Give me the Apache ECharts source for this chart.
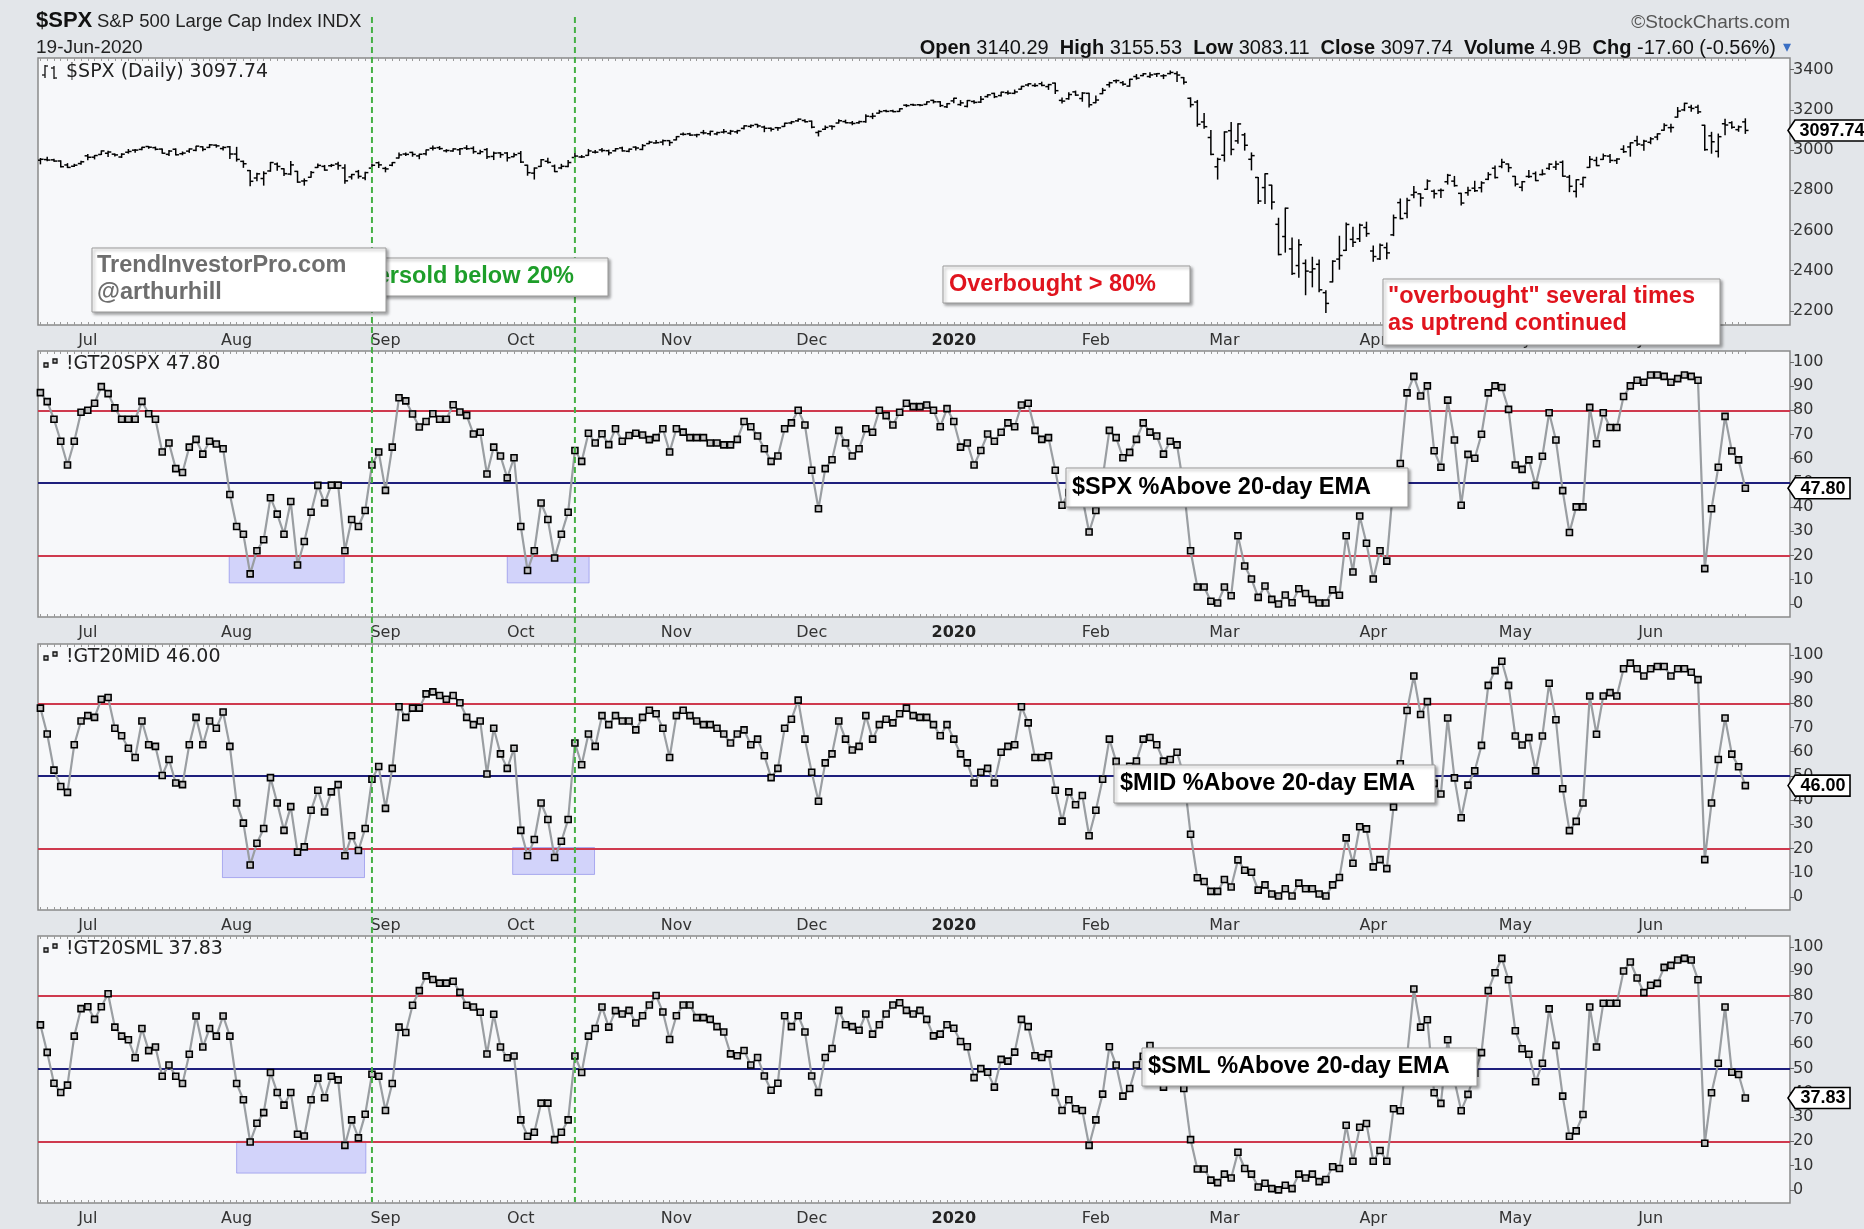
<!DOCTYPE html>
<html><head><meta charset="utf-8">
<script src="https://cdn.jsdelivr.net/npm/echarts@6/dist/echarts.min.js"></script>
<style>html,body{margin:0;padding:0;background:#e3e6ea;}#c{width:1864px;height:1229px;}</style>
</head><body><div id="c"></div>
<script>
// ---------- DATA ----------
const monthLabels = ['Jul','Aug','Sep','Oct','Nov','Dec','2020','Feb','Mar','Apr','May','Jun'];
const monthStartIdx = [7,29,51,71,94,114,135,156,175,197,218,238];
const priceTicks = [2200,2400,2600,2800,3000,3200,3400];
const pctTicks = [0,10,20,30,40,50,60,70,80,90,100];
const markerDays = [49,79];
// $SPX daily [open, high, low, close], 20-Jun-2019 .. 19-Jun-2020
const spxBars = [
[2949.60,2958.06,2931.50,2954.18],[2952.71,2964.15,2946.87,2950.46],[2951.42,2954.92,2944.05,2945.35],[2945.78,2946.52,2916.01,2917.38],[2926.07,2932.59,2912.99,2913.78],[2919.66,2929.30,2918.57,2924.92],[2932.94,2943.98,2929.05,2941.76],
[2971.41,2977.93,2952.22,2964.33],[2964.66,2973.21,2955.92,2973.01],[2978.08,2995.84,2977.96,2995.82],[2984.25,2994.03,2967.97,2990.41],[2979.77,2980.76,2970.09,2975.95],[2965.52,2981.90,2963.44,2979.63],[2989.30,3002.98,2984.62,2993.07],[2999.62,3002.33,2988.80,2999.91],[3003.36,3013.92,3001.87,3013.77],[3017.80,3017.80,3008.77,3014.30],[3012.13,3015.02,3001.15,3004.04],[3005.10,3005.26,2984.25,2984.42],[2978.87,2998.28,2973.09,2995.11],[3004.26,3006.02,2975.86,2976.61],[2981.93,2990.71,2976.65,2985.03],[2994.74,3005.90,2988.56,3005.47],[2998.77,3019.59,2996.82,3019.56],[3016.26,3016.31,2997.24,3003.67],[3013.25,3027.98,3012.59,3025.86],[3024.47,3025.61,3014.30,3020.97],[3007.66,3017.19,3000.94,3013.18],[3016.22,3017.40,2958.08,2980.38],
[2980.32,3013.59,2945.23,2953.56],[2943.90,2945.50,2914.11,2932.05],[2898.07,2898.07,2822.12,2844.74],[2861.18,2884.40,2847.42,2881.77],[2858.65,2892.17,2825.71,2883.98],[2896.21,2938.72,2894.47,2938.09],[2930.51,2935.75,2900.15,2918.65],[2907.07,2907.58,2873.14,2882.70],[2880.72,2943.31,2877.05,2926.32],[2894.15,2894.15,2839.64,2840.60],[2846.20,2856.67,2825.51,2847.60],[2864.74,2893.63,2864.74,2888.68],[2913.48,2931.00,2913.48,2923.65],[2919.01,2923.63,2899.60,2900.51],[2922.04,2928.73,2917.91,2924.43],[2930.94,2939.08,2904.51,2922.95],[2911.07,2927.01,2834.97,2847.11],[2866.70,2879.27,2856.00,2878.38],[2893.14,2898.79,2860.59,2869.16],[2861.28,2890.03,2853.05,2887.94],[2910.37,2930.50,2905.67,2924.58],[2937.09,2940.43,2913.32,2926.46],
[2909.01,2914.39,2891.85,2906.27],[2924.67,2938.84,2921.86,2937.78],[2960.60,2985.86,2960.60,2976.00],[2980.33,2985.03,2972.51,2978.71],[2988.43,2989.43,2969.39,2978.43],[2971.01,2979.39,2957.01,2979.39],[2981.41,3000.93,2975.31,3000.93],[3009.08,3020.74,3000.92,3009.57],[3012.21,3017.33,3002.90,3007.39],[2996.41,3002.19,2990.67,2997.96],[2995.67,3006.21,2993.73,3005.70],[3001.50,3007.83,2978.57,3006.73],[3010.36,3021.99,3003.16,3006.79],[3008.42,3016.37,2984.68,2992.07],[2983.50,2999.15,2982.23,2991.78],[3002.43,3007.98,2957.73,2966.60],[2968.35,2989.82,2952.86,2984.87],[2985.73,2987.28,2963.71,2977.62],[2985.47,2987.31,2945.53,2961.79],[2967.07,2983.85,2967.07,2976.74],
[2983.69,2992.53,2938.70,2940.25],[2924.78,2924.78,2874.93,2887.61],[2885.38,2911.13,2855.94,2910.63],[2918.56,2953.74,2918.56,2952.01],[2944.23,2959.75,2935.68,2938.79],[2920.40,2925.47,2892.66,2893.06],[2911.10,2929.32,2907.41,2919.40],[2918.55,2948.46,2917.12,2938.13],[2963.07,2993.28,2963.07,2970.27],[2965.81,2972.84,2962.94,2966.15],[2973.61,3003.28,2973.61,2995.68],[2989.68,2997.54,2985.20,2989.69],[3000.77,3008.29,2991.79,2997.95],[2996.84,3000.00,2976.31,2986.20],[2996.48,3007.33,2995.35,3006.72],[3010.73,3014.57,2995.04,2995.99],[2994.01,3004.78,2991.21,3004.52],[3014.78,3016.07,3000.42,3010.29],[3003.32,3027.39,3001.94,3022.55],[3032.12,3044.08,3032.12,3039.42],[3035.39,3047.87,3034.81,3036.89],[3039.74,3050.10,3025.96,3046.77],[3046.90,3046.90,3023.19,3037.56],
[3050.72,3066.95,3050.72,3066.91],[3078.96,3085.20,3074.87,3078.27],[3080.80,3083.95,3072.15,3074.62],[3075.10,3078.34,3065.89,3076.78],[3087.02,3097.77,3080.23,3085.18],[3081.25,3093.09,3073.58,3093.08],[3080.33,3088.33,3075.82,3087.01],[3089.28,3102.61,3084.73,3091.84],[3084.18,3098.06,3078.80,3094.04],[3090.75,3098.20,3083.26,3096.63],[3107.92,3120.46,3104.60,3120.46],[3117.91,3124.17,3112.06,3122.03],[3127.45,3127.64,3113.47,3120.18],[3114.66,3118.97,3091.41,3108.46],[3108.49,3110.11,3094.55,3103.54],[3111.41,3112.87,3099.26,3110.29],[3117.44,3133.83,3117.44,3133.64],[3134.85,3142.69,3131.00,3140.52],[3145.49,3154.26,3143.41,3153.63],[3147.18,3150.30,3139.34,3140.98],
[3143.85,3144.31,3110.78,3113.87],[3087.41,3094.97,3070.33,3093.20],[3103.50,3119.38,3102.53,3112.76],[3119.21,3119.45,3103.76,3117.43],[3134.62,3150.60,3134.62,3145.91],[3141.86,3148.87,3135.46,3135.96],[3135.36,3142.12,3126.09,3132.52],[3135.75,3143.98,3133.21,3141.63],[3141.23,3176.28,3138.47,3168.57],[3166.65,3182.68,3156.51,3168.80],[3183.63,3197.71,3183.63,3191.45],[3195.40,3198.22,3191.03,3192.52],[3195.21,3198.48,3191.14,3191.14],[3192.32,3205.48,3192.32,3205.37],[3223.33,3225.65,3216.03,3221.22],[3226.05,3227.78,3222.30,3224.01],[3225.45,3226.43,3220.51,3223.38],[3227.20,3240.08,3227.20,3239.91],[3247.23,3247.93,3234.37,3240.02],[3240.09,3240.92,3216.57,3221.29],[3215.18,3231.72,3212.03,3230.78],
[3244.67,3258.14,3235.53,3257.85],[3226.36,3246.15,3222.34,3234.85],[3217.55,3246.84,3214.64,3246.28],[3241.86,3244.91,3232.43,3237.18],[3238.59,3267.07,3236.67,3253.05],[3266.03,3275.58,3263.67,3274.70],[3281.81,3282.99,3260.86,3265.35],[3271.13,3288.13,3268.43,3288.13],[3285.35,3294.25,3277.19,3283.15],[3282.27,3298.66,3280.69,3289.29],[3302.97,3317.11,3302.82,3316.81],[3323.66,3329.88,3318.86,3329.62],[3321.03,3329.79,3316.61,3320.79],[3330.02,3337.77,3320.04,3321.75],[3315.77,3326.88,3301.87,3325.54],[3333.10,3333.18,3281.53,3295.47],[3247.16,3258.85,3234.50,3243.63],[3255.35,3285.78,3253.22,3276.24],[3289.46,3293.47,3271.89,3273.40],[3256.45,3285.91,3242.80,3283.66],[3282.33,3282.33,3214.68,3225.52],
[3235.66,3268.44,3235.66,3248.92],[3280.61,3306.92,3280.61,3297.59],[3324.91,3337.58,3313.75,3334.69],[3344.92,3347.96,3334.39,3345.78],[3335.54,3341.42,3322.12,3327.71],[3318.28,3352.26,3317.77,3352.09],[3365.87,3375.63,3352.72,3357.75],[3370.50,3381.47,3369.72,3379.45],[3365.90,3385.09,3360.52,3373.94],[3378.08,3380.69,3366.15,3380.16],[3369.04,3375.01,3355.61,3370.29],[3380.39,3393.52,3378.83,3386.15],[3380.45,3389.15,3341.02,3373.23],[3360.50,3360.76,3328.45,3337.75],[3257.61,3259.81,3214.65,3225.89],[3238.94,3246.99,3118.77,3128.21],[3139.90,3182.51,3108.99,3116.39],[3062.54,3097.07,2977.39,2978.76],[2916.90,2959.72,2855.84,2954.22],
[2974.28,3090.96,2945.19,3090.23],[3096.46,3136.72,2976.63,3003.37],[3045.75,3130.97,3034.38,3130.12],[3075.70,3083.04,2999.83,3023.94],[2954.20,2985.93,2901.54,2972.37],[2863.89,2863.89,2734.43,2746.56],[2813.48,2882.59,2734.00,2882.23],[2825.60,2825.60,2707.22,2741.38],[2630.86,2660.95,2478.86,2480.64],[2569.99,2711.33,2492.37,2711.02],[2508.59,2562.98,2380.94,2386.13],[2425.66,2553.93,2367.04,2529.19],[2436.50,2453.57,2280.52,2398.10],[2393.48,2466.97,2319.78,2409.39],[2431.94,2453.01,2295.56,2304.92],[2290.71,2300.73,2191.86,2237.40],[2344.44,2449.71,2344.44,2447.33],[2457.77,2571.42,2407.53,2475.56],[2501.29,2637.01,2500.72,2630.07],[2555.87,2615.91,2520.02,2541.47],[2558.98,2631.80,2545.28,2626.65],[2614.69,2641.39,2571.15,2584.59],
[2498.08,2522.75,2447.49,2470.50],[2458.54,2533.22,2455.79,2526.90],[2514.92,2538.18,2459.96,2488.65],[2578.28,2676.85,2574.57,2663.68],[2738.65,2756.89,2657.67,2659.41],[2685.00,2760.75,2663.30,2749.98],[2776.99,2818.57,2762.36,2789.82],[2782.46,2782.46,2721.17,2761.63],[2805.10,2851.85,2805.10,2846.06],[2795.64,2801.88,2761.54,2783.36],[2799.34,2806.51,2764.32,2799.55],[2842.43,2879.22,2830.88,2874.56],[2845.62,2868.98,2820.43,2823.16],[2784.81,2785.54,2727.10,2736.56],[2787.89,2815.10,2775.95,2799.31],[2810.42,2844.90,2794.26,2797.80],[2812.64,2842.71,2791.76,2836.74],[2854.65,2887.72,2852.89,2878.48],[2909.96,2921.15,2860.71,2863.39],[2918.46,2954.86,2912.16,2939.51],[2930.91,2930.91,2892.47,2912.43],
[2869.09,2869.09,2821.61,2830.71],[2815.01,2844.24,2797.85,2842.74],[2868.88,2898.23,2863.55,2868.44],[2883.14,2891.11,2847.65,2848.42],[2878.26,2901.92,2876.48,2881.19],[2908.83,2932.16,2902.88,2929.80],[2915.46,2944.25,2903.44,2930.32],[2939.50,2945.82,2869.59,2870.12],[2865.86,2874.14,2793.15,2820.00],[2794.54,2852.80,2766.64,2852.50],[2829.95,2865.01,2816.78,2863.70],[2913.86,2968.09,2913.86,2953.91],[2948.59,2964.21,2922.35,2922.94],[2953.63,2980.29,2953.63,2971.61],[2969.95,2978.50,2938.57,2948.51],[2948.05,2956.76,2933.59,2955.45],[3004.08,3021.72,2988.17,2991.77],[3015.65,3036.25,2969.75,3036.13],[3046.61,3068.67,3023.40,3029.73],[3025.17,3049.17,2998.61,3044.31],
[3038.78,3062.18,3031.54,3055.73],[3064.78,3081.07,3051.64,3080.82],[3098.90,3130.94,3098.90,3122.87],[3111.56,3128.91,3090.41,3112.35],[3163.84,3211.72,3163.84,3193.93],[3199.92,3233.13,3196.00,3232.39],[3213.32,3222.71,3193.11,3207.18],[3213.42,3223.27,3181.49,3190.14],[3123.53,3123.53,2999.49,3002.10],[3071.04,3088.42,2984.47,3041.31],[2993.76,3079.76,2965.66,3066.59],[3131.00,3153.45,3076.06,3124.74],[3136.13,3141.16,3108.03,3113.49],[3101.64,3120.00,3093.51,3115.34],[3140.29,3155.53,3083.11,3097.74]
];
const gt20spx = [
87.3,83.6,76.3,67.2,57.4,67.2,79.2,80,82.9,89.8, 86.9,81,76.3,76.3,76.3,83.7,78.6,76.3,62.8,66.5,
55.9,54.3,64.8,68,61.9,67.2,66.1,64.1,45.2,32, 28.8,12.4,22,26.5,43.9,37.1,28.8,42.3,16.1,25.8,
37.9,49,41.7,49.1,49.1,22,34.9,32,38.6,57.4, 62.8,46.9,64.8,85.2,83.9,78.5,73.1,75.4,78.6,76.3,
76.3,82.3,79.3,77.9,70.2,70.9,53.7,64.8,61.1,52.1, 60.4,32,13.8,22,41.7,34.9,19,28.8,37.9,63.4,
58.9,70.5,66.5,70.3,65.8,72.4,67.2,69.6,70.5,69.8, 67.9,68.7,72.4,62.8,72.4,71,68.7,68.7,68.7,66.5,
66.5,65.7,65.7,68,75.4,73.2,69.4,64.1,58.9,61.1, 72.4,74.8,80,73.9,55.2,39.3,55.9,59.6,71.7,66.5,
61.1,64.1,72.4,70.9,80,77.8,73.9,79.2,82.9,81.5, 81.5,82.2,80,73.2,80.7,75.4,64.8,66.5,57.4,63.4,
70.2,67.2,70.9,74.8,73.2,82.2,82.9,71.7,68,68.7, 55.2,40.8,46,50,44,29.7,38.6,52,71.7,68.7,
60.4,62.6,68,74.8,71,69.4,61.9,67.2,65.7,48, 22,7,7,1.1,0.4,7,3.4,28.2,15.7,10.3,
2.7,7.4,1.9,0,3.7,0.5,6.3,4.3,1.8,0.4, 0.4,5.8,3.6,28.2,13.2,36.3,25.1,10.3,22,17.7,
50,58,87.2,94,85.9,90.1,63.3,56.5,84.2,67.7, 40.8,61.8,60.2,70.1,87.2,90.1,89.4,80.4,57.4,55.6,
59.5,49,61,79,67.7,46.8,29.5,40.1,40.1,81.2, 66.2,79,72.9,72.9,85.7,90.1,92.4,91.6,94.6,94.6,
94,91.6,93.1,94.6,94,92.4,14.6,39.3,56.5,77.5, 63.2,59.5,47.8
];
const gt20mid = [
78,67.3,52.4,45.6,43.2,62.9,72.7,74.9,74.2,81.7, 82.4,69.7,66.6,61.4,57.6,72.7,62.9,62.2,50.2,56.8,
47.1,46.4,62.9,74.2,62.9,72.7,69.7,76.4,62.2,38.8, 30.5,13.2,22.2,28.3,49.3,38.8,27.5,37.3,18.5,20.7,
35.8,44.1,35.1,43.4,46.4,17,25.3,19.2,28.3,48.6, 53.9,36.6,53.1,78.6,74.2,78,78,83.9,84.7,83.2,
81.7,83.2,80.2,74.2,71.2,72.7,50.8,69.7,59.1,53.1, 61.4,27.5,17,23.7,38.8,32,16.3,23,32,63.6,
54.6,67.3,62.2,74.9,71.2,74.9,72.7,72.7,69,74.2, 77.1,75.7,69.7,57.6,74.9,77.1,74.9,72.7,71.2,71.2,
69.7,67.3,63.6,67.3,69,62.9,65.2,58.3,49.3,53.1, 69.7,73.4,81.3,65.2,51.5,39.5,55.4,59.1,72.7,65.2,
60.7,62.2,74.9,65.2,71.2,73.4,71.9,75.7,78,74.9, 74.2,74.2,71.2,66.6,71.2,65.2,59.1,55.4,47.1,51.5,
53.1,47.1,59.8,62.2,62.9,78.6,71.9,57.6,57.6,58.3, 44.1,31.3,43.4,38.1,41.9,25.3,35.8,48.6,65.2,56,
52,54,56.1,65.2,65.9,62.9,56.1,56.8,59.8,50, 25.9,7.9,6.4,2.3,2.3,7.2,4.1,15.3,11,10.2,
2.8,5,1.2,0.4,3.4,0.4,5.7,3.4,3.4,1.2, 0.4,5,8,24.4,13.9,29,28.1,12.4,15.4,11.7,
37.2,55,77,91.3,75.4,80.7,46.9,42.5,73.9,49.2, 32.7,46.2,52.1,62.6,87.4,93.5,97.4,87.4,66.5,62.8,
65.8,52.1,66.5,88.3,73.2,44.7,27.4,31.2,38.8,83, 67.2,83,84.4,83,94.3,96.6,94.3,91.3,94.3,95.2,
95.2,91.3,94.3,94.3,92.8,89.8,15.4,38.8,56.8,73.9, 59,53.8,46
];
const gt20sml = [
67.9,56.6,43.9,40.1,43.1,63.3,74.6,75.4,70.2,75.4, 80.7,67,63.3,61.8,54.4,66.4,57.3,58.8,46.8,51.4,
46.8,43.8,55.8,71.6,58.8,66.4,63.3,71.6,63.3,43.8, 37.1,19.7,27.4,31.8,48.3,40.1,34.9,40.1,22.9,22.2,
37.1,46,37.9,46.8,45.3,18.3,28.8,21.4,31.1,47.6, 46.8,32.7,43.8,67,64.8,76,82,88.1,86.6,85.1,
85.1,85.9,81.3,76,75.3,73.1,55.9,72.3,58.8,54.4, 55.1,28.8,22.1,23.7,35.7,35.7,20.7,23.7,28.8,55.1,
48.3,63.3,66.4,75.3,67,73.8,72.4,73.9,68.7,71.7, 76.1,80,73.2,61.9,71.7,76.1,76.1,70.9,70.9,70.2,
67.2,65,56,55.2,57.4,51.4,54.5,46.9,41,43.9, 71.7,67.2,71.7,65,46.9,40.1,54.5,58.2,73.9,68,
67.2,65.7,72.4,64.1,68,72.4,76.1,77,73.9,72.4, 73.9,70.2,63.4,64.1,68,66.5,61.1,58.9,46.2,49.9,
48.4,42.3,53.7,53,56.7,70.2,67.2,55.2,54.5,56, 40.1,32.7,37.1,33.4,32.7,18.3,28.8,39.4,58.9,51.4,
38.6,41.7,51.4,55,59.4,54,42.3,50,52,41.7, 20.7,8.6,8.6,4,3,6.5,4.9,15.5,8.8,6.5,
1.2,2.7,0.5,0,1.9,0.5,6.5,4.9,6.5,3.4, 4.3,9.5,8.8,26.6,11.8,25.8,27.3,11.8,16.2,11.8,
33.4,32.6,55,82.7,67,70,40,35.6,61.8,45, 32.6,39.3,48,56.5,82,89.4,95.3,86.5,65.5,58.1,
55.8,44.5,52.1,74.5,59.5,38.6,22.1,24.3,31,75.3, 58.8,76.8,76.8,76.8,90.1,93.8,87.2,81.2,84.2,85,
91.6,92.4,94.6,95.3,94.6,86.5,19.2,40,52.1,75.3, 48.4,47.5,37.83
];
// oversold zones: [fromDay, toDay, lowPct, highPct]
const zonesSpx = [[27.9,44.9,8.7,20],[69,81.1,8.7,20]];
const zonesMid = [[26.9,47.9,8,20],[69.8,81.9,9.3,20.4]];
const zonesSml = [[29,48.1,6.9,20]];

// ---------- CHART ----------
const chart = echarts.init(document.getElementById('c'), null, {renderer:'canvas', width:1864, height:1229});
const X_MIN = -0.36, X_MAX = 258.6;
const dayIdx = spxBars.map((b,i)=>i);
const AX_FONT = 'DejaVu Sans';
const grids = [
  {left:38, top:58, width:1752, height:267},
  {left:38, top:351, width:1752, height:266},
  {left:38, top:644, width:1752, height:266},
  {left:38, top:936, width:1752, height:267}
].map(g => Object.assign(g, {show:true, backgroundColor:'#f7f8fa', borderColor:'#8a8a8a', borderWidth:1.5}));

const xAxes = [], yAxes = [];
grids.forEach((g,k)=>{
  xAxes.push({type:'value', gridIndex:k, min:X_MIN, max:X_MAX, position:'bottom',
    axisLine:{show:false, onZero:false}, splitLine:{show:false},
    axisTick:{show:true, inside:true, length:3, customValues:dayIdx, lineStyle:{color:'#9a9a9a', width:1}},
    axisLabel:{show:true, customValues:monthStartIdx, margin:8, fontFamily:AX_FONT, fontSize:16, color:'#333',
      formatter:function(v){const k2=monthStartIdx.indexOf(Math.round(v)); if(k2<0) return ''; const s=monthLabels[k2]; return s==='2020' ? '{b|'+s+'}' : s;},
      rich:{b:{fontWeight:'bold', fontFamily:AX_FONT, fontSize:16, color:'#222'}}}
  });
  xAxes.push({type:'value', gridIndex:k, min:X_MIN, max:X_MAX, position:'top',
    axisLine:{show:false, onZero:false}, splitLine:{show:false}, axisLabel:{show:false},
    axisTick:{show:true, inside:true, length:3, customValues:dayIdx, lineStyle:{color:'#9a9a9a', width:1}}
  });
  const isPrice = k===0;
  const ticks = isPrice ? priceTicks : pctTicks;
  yAxes.push({type:'value', gridIndex:k, position:'right', min: isPrice?2130:-5.4, max: isPrice?3458:104.5,
    axisLine:{show:false, onZero:false}, splitLine:{show:false},
    axisTick:{show:true, length:4, customValues:ticks, lineStyle:{color:'#666'}},
    axisLabel:{show:true, customValues:ticks, margin:3, fontFamily:AX_FONT, fontSize:16, color:'#333',
      formatter:function(v){return String(Math.round(v));}}
  });
});

function ohlcRender(params, api){
  const x=api.value(0), o=api.value(1), h=api.value(2), l=api.value(3), c=api.value(4);
  const pH=api.coord([x,h]), pL=api.coord([x,l]), pO=api.coord([x,o]), pC=api.coord([x,c]);
  const w=3.2, st={stroke:'#000', lineWidth:1.5};
  return {type:'group', children:[
    {type:'line', shape:{x1:pH[0], y1:pH[1]-0.5, x2:pL[0], y2:pL[1]+0.5}, style:st},
    {type:'line', shape:{x1:pO[0]-w, y1:pO[1], x2:pO[0], y2:pO[1]}, style:st},
    {type:'line', shape:{x1:pC[0], y1:pC[1], x2:pC[0]+w, y2:pC[1]}, style:st}
  ]};
}

function breadth(k, data, zones){
  return {type:'line', xAxisIndex:2*k, yAxisIndex:k, data:data.map((v,i)=>[i,v]),
    symbol:'rect', symbolSize:6, showSymbol:true, clip:true, z:5,
    lineStyle:{color:'#9a9ea2', width:2.2},
    itemStyle:{color:'#c4c4c4', borderColor:'#000', borderWidth:1.6},
    markLine:{silent:true, symbol:'none', label:{show:false}, z:3,
      data:[
        {yAxis:80, lineStyle:{color:'#cf3a4e', width:2, type:'solid'}},
        {yAxis:50, lineStyle:{color:'#1e1f7c', width:2, type:'solid'}},
        {yAxis:20, lineStyle:{color:'#cf3a4e', width:2, type:'solid'}}
      ]},
    markArea:{silent:true, itemStyle:{color:'rgba(150,150,250,0.38)', borderColor:'rgba(120,120,230,0.55)', borderWidth:1},
      data: zones.map(z=>[{coord:[z[0], z[3]]},{coord:[z[1], z[2]]}])}
  };
}

const option = {
  animation:false,
  backgroundColor:'#e3e6ea',
  grid: grids, xAxis: xAxes, yAxis: yAxes,
  series:[
    {type:'custom', xAxisIndex:0, yAxisIndex:0, renderItem:ohlcRender, clip:true,
     data: spxBars.map((b,i)=>[i,b[0],b[1],b[2],b[3]]), z:5},
    breadth(1, gt20spx, zonesSpx),
    breadth(2, gt20mid, zonesMid),
    breadth(3, gt20sml, zonesSml)
  ]
};
chart.setOption(option);

// ---------- ANNOTATIONS ----------
const G = [];
const ARIALB = 'bold 23.5px "Liberation Sans", Arial, sans-serif';
markerDays.forEach(d=>{
  const x = chart.convertToPixel({xAxisIndex:0}, d);
  G.push({type:'line', z:50, shape:{x1:x, y1:17, x2:x, y2:1202}, style:{stroke:'#45b045', lineWidth:2, lineDash:[6,4]}});
});
function box(x,y,w,h,z){
  return {type:'rect', z:z, shape:{x:x,y:y,width:w,height:h}, style:{fill:'#fff', stroke:'#9a9a9a', lineWidth:1, shadowBlur:3, shadowOffsetX:2, shadowOffsetY:2, shadowColor:'rgba(0,0,0,0.35)'}};
}
function txt(x,y,t,font,fill,z,align){
  return {type:'text', z:z, x:x, y:y, style:{text:t, font:font, fill:fill, align:align||'left', verticalAlign:'middle'}};
}
G.push(box(336,258,272,38,60));
G.push(txt(574,277,'Oversold below 20%',ARIALB,'#1e9e2a',61,'right'));
G.push(box(92,248,294,64,62));
G.push(txt(97,266,'TrendInvestorPro.com',ARIALB,'#6e6e6e',63));
G.push(txt(97,293,'@arthurhill',ARIALB,'#6e6e6e',63));
G.push(box(943,266,247,37,60));
G.push(txt(949,285,'Overbought > 80%',ARIALB,'#e0141e',61));
G.push(box(1383,279,337,66,60));
G.push(txt(1388,297,'"overbought" several times',ARIALB,'#e0141e',61));
G.push(txt(1388,324,'as uptrend continued',ARIALB,'#e0141e',61));
G.push(box(1066,468,342,39,60)); G.push(txt(1072,488,'$SPX %Above 20-day EMA',ARIALB,'#000',61));
G.push(box(1114,765,321,38,60)); G.push(txt(1120,784,'$MID %Above 20-day EMA',ARIALB,'#000',61));
G.push(box(1142,1048,335,38,60)); G.push(txt(1148,1067,'$SML %Above 20-day EMA',ARIALB,'#000',61));

function tag(k, val, label, w){
  const y = chart.convertToPixel({yAxisIndex:k}, val);
  const x = 1788, h = 21;
  G.push({type:'polygon', z:70, shape:{points:[[x,y],[x+7,y-h/2],[x+w,y-h/2],[x+w,y+h/2],[x+7,y+h/2]]}, style:{fill:'#fff', stroke:'#000', lineWidth:1.6}});
  G.push(txt(x+8+(w-8)/2, y+0.5, label, 'bold 18px "Liberation Sans", Arial, sans-serif', '#000', 71, 'center'));
}
tag(0, spxBars[spxBars.length-1][3], '3097.74', 80);
tag(1, gt20spx[gt20spx.length-1], '47.80', 62);
tag(2, gt20mid[gt20mid.length-1], '46.00', 62);
tag(3, gt20sml[gt20sml.length-1], '37.83', 62);

const TFONT = '19px "DejaVu Sans", sans-serif';
function ohlcIcon(x,y){
  const st={stroke:'#222', lineWidth:1.4};
  G.push({type:'line', z:40, shape:{x1:x, y1:y-7, x2:x, y2:y+6}, style:st});
  G.push({type:'line', z:40, shape:{x1:x, y1:y-6, x2:x+3, y2:y-6}, style:st});
  G.push({type:'line', z:40, shape:{x1:x-3, y1:y+3, x2:x, y2:y+3}, style:st});
  G.push({type:'line', z:40, shape:{x1:x+9, y1:y-6, x2:x+9, y2:y+7}, style:st});
  G.push({type:'line', z:40, shape:{x1:x+6, y1:y-4, x2:x+9, y2:y-4}, style:st});
  G.push({type:'line', z:40, shape:{x1:x+9, y1:y+6, x2:x+12, y2:y+6}, style:st});
}
function sqIcon(x,y){
  const st={fill:'#bbb', stroke:'#111', lineWidth:1.3};
  G.push({type:'rect', z:40, shape:{x:x, y:y-1, width:4, height:4}, style:st});
  G.push({type:'rect', z:40, shape:{x:x+9, y:y-5, width:4, height:4}, style:st});
}
ohlcIcon(45, 72); G.push(txt(66,72,'$SPX (Daily) 3097.74',TFONT,'#222',40));
sqIcon(44, 364); G.push(txt(66,364,'!GT20SPX 47.80',TFONT,'#222',40));
sqIcon(44, 657); G.push(txt(66,657,'!GT20MID 46.00',TFONT,'#222',40));
sqIcon(44, 949); G.push(txt(66,949,'!GT20SML 37.83',TFONT,'#222',40));

G.push(txt(36,21,'$SPX','bold 22px "Liberation Sans", Arial, sans-serif','#111',40));
G.push(txt(97,22,'S&P 500 Large Cap Index INDX','18.5px "Liberation Sans", Arial, sans-serif','#222',40));
G.push(txt(36,48,'19-Jun-2020','19px "Liberation Sans", Arial, sans-serif','#222',40));
G.push(txt(1790,23,'©StockCharts.com','19px "Liberation Sans", Arial, sans-serif','#555',40,'right'));
G.push({type:'text', z:40, x:1776, y:48, style:{
  text:'{b|Open} 3140.29  {b|High} 3155.53  {b|Low} 3083.11  {b|Close} 3097.74  {b|Volume} 4.9B  {b|Chg} -17.60 (-0.56%)',
  font:'20px "Liberation Sans", Arial, sans-serif', fill:'#111', align:'right', verticalAlign:'middle',
  rich:{b:{fontWeight:'bold', fontSize:20, fontFamily:'"Liberation Sans", Arial, sans-serif', fill:'#111'}}}});
G.push(txt(1783,48,'▾','16px "DejaVu Sans", sans-serif','#3a6fc4',40));

chart.setOption({graphic:{elements:G}});
</script></body></html>
